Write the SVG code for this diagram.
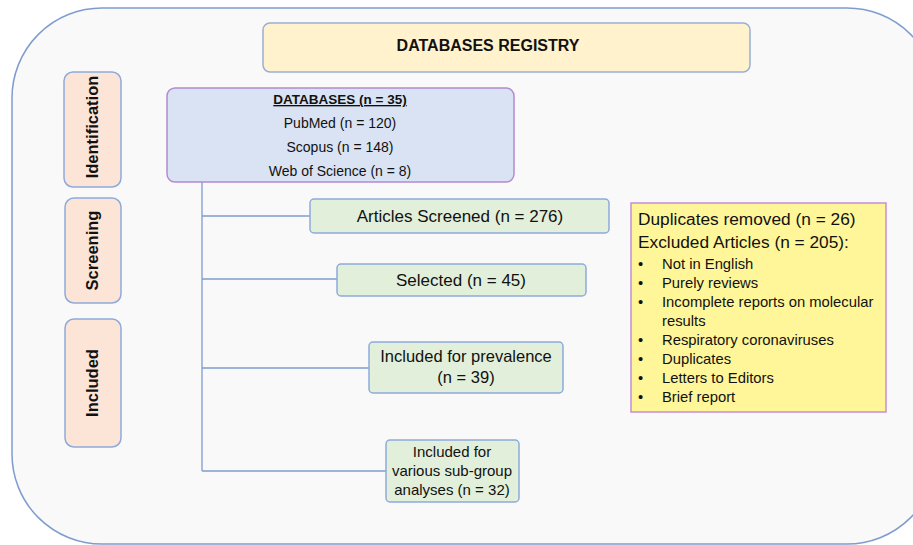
<svg xmlns="http://www.w3.org/2000/svg" width="913" height="545" viewBox="0 0 913 545">
<style>
text{font-family:"Liberation Sans",Arial,sans-serif;fill:#111}
.stage rect{fill:#fce4d6;stroke:#8eaadb;stroke-width:1.5}
.stage text{font-weight:bold;font-size:16.5px;text-anchor:middle}
.g rect{fill:#e2efda;stroke:#8eaadb;stroke-width:1.5}
.g text{font-size:16.5px;text-anchor:middle}
.c{fill:none;stroke:#7f9ccf;stroke-width:1.3}
.db{font-size:14px;text-anchor:middle}
.bul text{font-size:14.8px}
</style>
<rect x="12" y="8" width="925" height="536" rx="90" fill="#f9f9f9" stroke="#7f9ccf" stroke-width="1.5"/>
<g id="title"><rect x="263" y="23" width="487" height="49" rx="7" fill="#fff2cc" stroke="#9aafd6" stroke-width="1.5"/>
<text x="488" y="51" text-anchor="middle" font-weight="bold" font-size="16">DATABASES REGISTRY</text></g>
<g id="identification" class="stage"><rect x="64" y="72" width="57" height="115" rx="9"/>
<text transform="translate(98,127) rotate(-90)">Identification</text></g>
<g id="screening" class="stage"><rect x="65" y="198" width="56" height="105" rx="9"/>
<text transform="translate(98,250.5) rotate(-90)">Screening</text></g>
<g id="included" class="stage"><rect x="65" y="319" width="56" height="128" rx="9"/>
<text transform="translate(98,383) rotate(-90)">Included</text></g>
<g id="databases"><rect x="167" y="88" width="347" height="94" rx="8" fill="#dae3f3" stroke="#b38bd0" stroke-width="1.5"/>
<text x="340" y="104" class="db" style="font-size:13.5px" font-weight="bold" text-decoration="underline">DATABASES (n = 35)</text>
<text x="340" y="128" class="db">PubMed (n = 120)</text>
<text x="340" y="152" class="db">Scopus (n = 148)</text>
<text x="340" y="176" class="db">Web of Science (n = 8)</text></g>
<g id="connectors">
<path class="c" d="M202 182V471M202 216H310M202 279H337M202 368H369M202 471H386"/>
</g>
<g id="screened" class="g"><rect x="310" y="199" width="299" height="34" rx="4"/>
<text x="460" y="222" style="font-size:17px">Articles Screened (n = 276)</text></g>
<g id="selected" class="g"><rect x="337" y="264" width="249" height="32" rx="4"/>
<text x="461" y="286" style="font-size:17px">Selected (n = 45)</text></g>
<g id="prevalence" class="g"><rect x="369" y="342" width="194" height="51" rx="4"/>
<text x="466" y="362">Included for prevalence</text>
<text x="466" y="383">(n = 39)</text></g>
<g id="subgroup" class="g"><rect x="386" y="440" width="133" height="62" rx="4"/>
<text x="452" y="457" style="font-size:15px">Included for</text>
<text x="452" y="476" style="font-size:15px">various sub-group</text>
<text x="452" y="495" style="font-size:15px">analyses (n = 32)</text></g>
<g id="excluded"><rect x="631" y="203" width="255" height="209" fill="#fff699" stroke="#c48fd3" stroke-width="1.5"/>
<text x="638" y="225" font-size="17.3">Duplicates removed (n = 26)</text>
<text x="638" y="248" font-size="17.3">Excluded Articles (n = 205):</text>
<g class="bul">
<text x="638" y="269">•</text><text x="662" y="269">Not in English</text>
<text x="638" y="288">•</text><text x="662" y="288">Purely reviews</text>
<text x="638" y="307">•</text><text x="662" y="307">Incomplete reports on molecular</text>
<text x="662" y="326">results</text>
<text x="638" y="345">•</text><text x="662" y="345">Respiratory coronaviruses</text>
<text x="638" y="364">•</text><text x="662" y="364">Duplicates</text>
<text x="638" y="383">•</text><text x="662" y="383">Letters to Editors</text>
<text x="638" y="402">•</text><text x="662" y="402">Brief report</text>
</g></g>
</svg>
